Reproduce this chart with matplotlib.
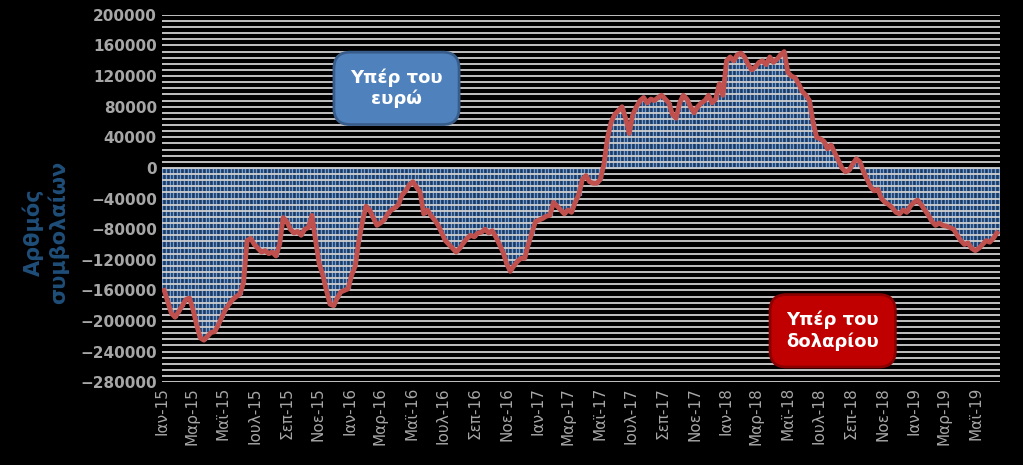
import matplotlib
matplotlib.use("Agg")
import matplotlib.pyplot as plt
import pandas as pd
import numpy as np

values_k = [-160,-175,-190,-195,-188,-180,-172,-170,-185,-205,-222,
 -225,-220,-215,-214,-205,-195,-185,-178,-172,-168,
 -165,-150,-95,-92,-100,-105,-110,-108,-112,-110,
 -115,-100,-65,-70,-80,-85,-83,-88,-80,-78,
 -62,-95,-125,-140,-160,-178,-180,-170,-162,-160,
 -158,-140,-128,-95,-70,-50,-55,-65,-75,-72,
 -68,-60,-55,-52,-48,-35,-30,-22,-18,-25,
 -32,-60,-55,-62,-68,-75,-85,-95,-100,-105,
 -110,-105,-98,-92,-88,-90,-85,-84,-80,-85,
 -82,-90,-100,-110,-125,-135,-128,-122,-118,-118,
 -100,-85,-70,-68,-66,-63,-62,-45,-50,-55,
 -60,-55,-58,-45,-35,-15,-10,-18,-20,-20,
 -15,5,40,60,70,75,80,65,45,70,
 80,88,92,85,90,88,92,95,90,85,
 70,65,85,95,90,80,72,80,85,88,
 95,85,90,110,95,140,145,140,148,150,
 145,135,128,132,138,140,135,145,138,142,
 148,152,125,120,118,110,100,95,88,60,
 40,38,35,25,30,20,10,0,-5,-3,
 5,12,8,-5,-15,-25,-30,-28,-40,-45,
 -48,-52,-58,-60,-55,-58,-50,-45,-42,-48,
 -55,-62,-70,-75,-72,-75,-76,-78,-80,-88,
 -95,-100,-98,-105,-108,-105,-100,-95,-97,-92,-85]
values = [v * 1000 for v in values_k]
dates = pd.date_range('2015-01-06', periods=len(values), freq='7D')
month_names = ['Ιαν','Φεβ','Μαρ','Απρ','Μαϊ','Ιουν','Ιουλ','Αυγ','Σεπ','Οκτ','Νοε','Δεκ']
tick_dates = pd.date_range('2015-01-01', '2019-05-01', freq='2MS')
tick_labels = [f"{month_names[d.month-1]}-{d.strftime('%y')}" for d in tick_dates]

fig = plt.figure(figsize=(10.23, 4.65), dpi=100, facecolor='black')
ax = fig.add_axes([0.158, 0.178, 0.82, 0.79], facecolor='black')
ax.set_ylim(-280000, 200000)
ax.set_xlim(pd.Timestamp('2015-01-01'), pd.Timestamp('2019-06-18'))
ax.bar(dates, values, width=7, color='#1f3a5f', edgecolor='#6f9fd8', linewidth=0.9, zorder=1)
for y in np.arange(-280000, 200001, 8000):
    ax.axhline(y, color='#d0d0d0', lw=1.3, zorder=2)
ax.plot(dates, values, color='#c0504d', lw=3.5, zorder=3)
ax.set_yticks(np.arange(-280000, 200001, 40000))
ax.set_xticks(tick_dates)
ax.set_xticklabels(tick_labels, rotation=90)
ax.tick_params(colors='#a6a6a6', labelsize=11, length=0)
for lbl in ax.get_yticklabels():
    lbl.set_fontweight('bold')
for s in ax.spines.values():
    s.set_visible(False)
fig.text(0.045, 0.5, 'Αρθμός\nσυμβολαίων', rotation=90, color='#1f4e79', fontsize=15,
         fontweight='bold', ha='center', va='center')
ax.text(0.28, 0.8, 'Υπέρ του\nευρώ', transform=ax.transAxes, ha='center', va='center',
        color='white', fontsize=13, fontweight='bold', zorder=5,
        bbox=dict(boxstyle='round,pad=0.9', fc='#4f81bd', ec='#385d8a', lw=2))
ax.text(0.8, 0.14, 'Υπέρ του\nδολαρίου', transform=ax.transAxes, ha='center', va='center',
        color='white', fontsize=13, fontweight='bold', zorder=5,
        bbox=dict(boxstyle='round,pad=0.9', fc='#c00000', ec='#8b0000', lw=2))
fig.savefig('out.png', dpi=100, facecolor='black')
